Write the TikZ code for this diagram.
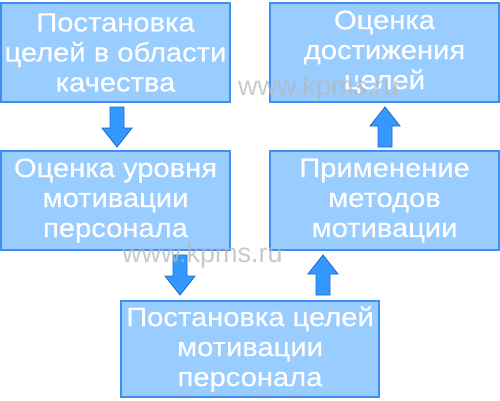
\documentclass[tikz,border=0pt]{standalone}
\usepackage{fontspec}
\setmainfont{Liberation Sans}
\newfontfamily\boxfont{Liberation Sans}[FakeStretch=1.1,FakeBold=0.4]
\definecolor{boxfill}{HTML}{99CCFF}
\definecolor{boxline}{HTML}{3D8FF0}
\definecolor{arrfill}{HTML}{3399FF}
\definecolor{arrline}{HTML}{1F66C8}
\definecolor{wmark}{HTML}{B8B8B8}
\tikzset{
  stepbox/.style={draw=boxline, line width=1.2pt, fill=boxfill, text=white,
    inner sep=0pt, align=center, font=\boxfont\fontsize{26.5}{30}\selectfont},
  blockarrow/.style={draw=arrline, fill=arrfill, line width=0.8pt, line join=miter},
  wm/.style={text=wmark, text opacity=0.75, font=\fontsize{27}{30}\selectfont, inner sep=0pt, anchor=base west}
}
\begin{document}
\begin{tikzpicture}[x=1pt,y=1pt]
\useasboundingbox (0,0) rectangle (500,400);
\fill[white] (0,0) rectangle (500,400);
\node[stepbox, minimum width=229pt, minimum height=99pt] (A) at (115.5,347.5) {Постановка\\целей в области\\качества};
\node[stepbox, minimum width=229pt, minimum height=99pt] (B) at (384.5,347.5) {Оценка\\достижения\\целей};
\node[stepbox, minimum width=229pt, minimum height=99pt] (C) at (115.5,199.5) {Оценка уровня\\мотивации\\персонала};
\node[stepbox, minimum width=229pt, minimum height=99pt] (D) at (384.5,199.5) {Применение\\методов\\мотивации};
\node[stepbox, minimum width=258pt, minimum height=96pt] (E) at (250,51) {Постановка целей\\мотивации\\персонала};
% block arrows (down: top point given; up: bottom point given)
\coordinate (a1) at (117,293);
\coordinate (a2) at (180,145);
\coordinate (a3) at (323,105);
\coordinate (a4) at (385,253);
\foreach \c in {a1,a2}{
  \draw[blockarrow] (\c) ++(-7,0) -- ++(14,0) -- ++(0,-21) -- ++(8,0) -- ++(-15,-19) -- ++(-15,19) -- ++(8,0) -- cycle;
}
\foreach \c in {a3,a4}{
  \draw[blockarrow] (\c) ++(-7,0) -- ++(14,0) -- ++(0,21) -- ++(8,0) -- ++(-15,19) -- ++(-15,-19) -- ++(8,0) -- cycle;
}
\node[wm] (w1) at (238,305) {www.kpms.ru};
\node[wm] (w2) at (122,138) {www.kpms.ru};
\end{tikzpicture}
\end{document}
